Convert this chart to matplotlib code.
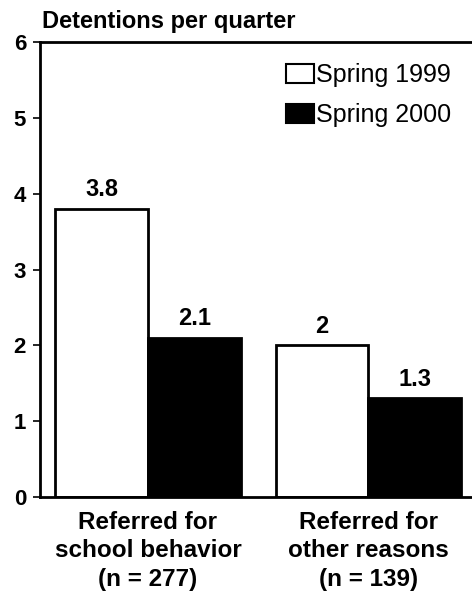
import matplotlib
matplotlib.use("Agg")
import matplotlib.pyplot as plt
import numpy as np
from matplotlib.patches import Patch

plt.rcParams['font.family'] = ['Liberation Sans', 'DejaVu Sans']

categories = ["Referred for\nschool behavior\n(n = 277)", "Referred for\nother reasons\n(n = 139)"]
series_names = ["Spring 1999", "Spring 2000"]
spring_1999 = [3.8, 2.0]
spring_2000 = [2.1, 1.3]
label_1999 = ["3.8", "2"]
label_2000 = ["2.1", "1.3"]
y_ticks = [0, 1, 2, 3, 4, 5, 6]

fig = plt.figure(figsize=(4.72, 5.91), dpi=100)
ax = fig.add_axes([40 / 472, 1 - 497 / 591, 1.0 - 40 / 472, (497 - 42) / 591])

x = np.arange(len(categories))
w = 0.42
b1 = ax.bar(x - w / 2, spring_1999, w, color="white", edgecolor="black", linewidth=2)
b2 = ax.bar(x + w / 2, spring_2000, w, color="black", edgecolor="black", linewidth=2)

for bars, labels in ((b1, label_1999), (b2, label_2000)):
    for rect, txt in zip(bars, labels):
        ax.text(rect.get_x() + rect.get_width() / 2, rect.get_height() + 0.1, txt,
                ha="center", va="bottom", fontsize=17, fontweight="bold")

ax.set_xlim(-0.49, 1.47)
ax.set_ylim(0, 6)
ax.set_yticks(y_ticks)
ax.set_yticklabels([str(t) for t in y_ticks], fontsize=16, fontweight="bold")
ax.set_xticks(x)
ax.set_xticklabels(categories, fontsize=17.5, fontweight="bold", linespacing=1.3)
ax.tick_params(axis="x", length=0, pad=10)
ax.tick_params(axis="y", length=5, width=1.2, pad=5)

for s in ["left", "bottom", "top"]:
    ax.spines[s].set_linewidth(2)
ax.spines["right"].set_visible(False)

ax.text(0.005, 1.02, "Detentions per quarter", transform=ax.transAxes,
        ha="left", va="bottom", fontsize=17, fontweight="bold")

handles = [Patch(facecolor="white", edgecolor="black", linewidth=1.5, label=series_names[0]),
           Patch(facecolor="black", edgecolor="black", linewidth=1.5, label=series_names[1])]
ax.legend(handles=handles, loc="upper right", bbox_to_anchor=(0.975, 0.975), frameon=False,
          fontsize=18, handlelength=1.1, handleheight=0.8, handletextpad=0.1,
          labelspacing=0.62, borderaxespad=0)

fig.savefig("out.png", dpi=100)
